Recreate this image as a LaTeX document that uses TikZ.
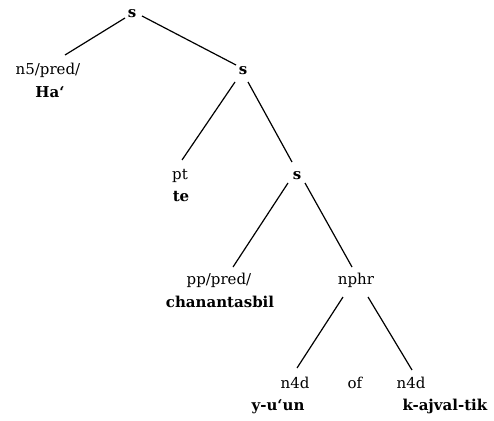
\documentclass[tikz,border=0pt]{standalone}
\usepackage{fontspec}
\setmainfont{DejaVu Serif}
\usetikzlibrary{calc}
\tikzset{
  lbl/.style={anchor=base, inner sep=0pt, font=\fontsize{15}{22}\selectfont},
  wrd/.style={anchor=base, inner sep=0pt, font=\fontsize{15}{22}\selectfont\bfseries},
  edge/.style={draw=black, line width=1.2pt}
}
\begin{document}
\begin{tikzpicture}[x=1pt,y=-1pt]
\useasboundingbox (0,0) rectangle (494,420);
% tree nodes
\node[wrd] (s1) at (132,18) {s};
\node[lbl] (n5) at (48,74) {n5/pred/};
\node[wrd] (ha) at (50,97) {Ha‘};
\node[wrd] (s2) at (243,74) {s};
\node[lbl] (pt) at (180,179) {pt};
\node[wrd] (te) at (181,201) {te};
\node[wrd] (s3) at (297,179) {s};
\node[lbl] (pp) at (219,284) {pp/pred/};
\node[wrd] (chan) at (220,307) {chanantasbil};
\node[lbl] (nphr) at (356,284) {nphr};
\node[lbl] (n4dl) at (295,388) {n4d};
\node[lbl] (of) at (355,388) {of};
\node[lbl] (n4dr) at (411,388) {n4d};
\node[wrd] (yuun) at (278,410) {y-u‘un};
\node[wrd] (kaj) at (445,410) {k-ajval-tik};
% connectors
\draw[edge] ($(s1.base)+(-7,0)$) -- ($(n5.base)+(17,-19)$);
\draw[edge] ($(s1.base)+(10,-2)$) -- ($(s2.base)+(-7,-9)$);
\draw[edge] ($(s2.base)+(-8,8)$) -- ($(pt.base)+(2,-19)$);
\draw[edge] ($(s2.base)+(5,8)$) -- ($(s3.base)+(-5,-17)$);
\draw[edge] ($(s3.base)+(-9,4)$) -- ($(pp.base)+(14,-17)$);
\draw[edge] ($(s3.base)+(8,4)$) -- ($(nphr.base)+(-4,-17)$);
\draw[edge] ($(nphr.base)+(-13,13)$) -- ($(n4dl.base)+(2,-20)$);
\draw[edge] ($(nphr.base)+(12,13)$) -- ($(n4dr.base)+(1,-18)$);
\end{tikzpicture}
\end{document}
